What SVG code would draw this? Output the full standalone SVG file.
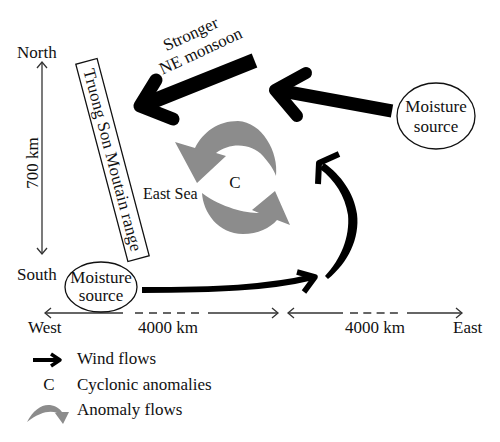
<svg xmlns="http://www.w3.org/2000/svg" width="500" height="442" viewBox="0 0 500 442">
<style>
.t{font-family:"Liberation Serif","Times New Roman",serif;font-size:17px;fill:#111}
.m{text-anchor:middle}
.w{stroke:#000;fill:none;stroke-linejoin:round}
.a{fill:#8c8c8c}
.s{stroke:#333;stroke-width:1.3;fill:none}
.node{fill:#fff;stroke:#111;stroke-width:1.3}
</style>
<rect width="500" height="442" fill="#fff"/>

<g id="scale-ns">
<line class="s" x1="42" y1="62" x2="42" y2="254"/>
<polyline class="s" points="37,68 42,62 47,68"/>
<polyline class="s" points="37,248 42,254 47,248"/>
<text class="t" x="17" y="58">North</text>
<text class="t" x="17" y="280">South</text>
<text class="t m" transform="translate(38,163) rotate(-90)">700 km</text>
</g>

<g id="scale-we">
<line class="s" x1="45" y1="313" x2="123" y2="313"/>
<line class="s" x1="135" y1="313" x2="200" y2="313" stroke-dasharray="8 6"/>
<line class="s" x1="208" y1="313" x2="278" y2="313"/>
<polyline class="s" points="51,308 45,313 51,318"/>
<polyline class="s" points="272,308 278,313 272,318"/>
<line class="s" x1="288" y1="313" x2="343" y2="313"/>
<line class="s" x1="350" y1="313" x2="398" y2="313" stroke-dasharray="8 5.3"/>
<line class="s" x1="407" y1="313" x2="462" y2="313"/>
<polyline class="s" points="294,308 288,313 294,318"/>
<polyline class="s" points="456,308 462,313 456,318"/>
<text class="t" x="28" y="333">West</text>
<text class="t" x="138" y="333">4000 km</text>
<text class="t" x="345" y="333">4000 km</text>
<text class="t" x="453" y="333">East</text>
</g>

<g id="mountain-range" transform="translate(112.5,160) rotate(75.2)">
<rect x="-102" y="-11" width="204" height="22" fill="#fff" stroke="#111" stroke-width="1.3"/>
<text class="t m" x="0" y="5.5" textLength="188">Truong Son Moutain range</text>
</g>

<g id="moisture-west">
<ellipse class="node" cx="101" cy="287" rx="36" ry="25"/>
<text class="t m" x="101" y="283">Moisture</text>
<text class="t m" x="101" y="301">source</text>
</g>

<g id="moisture-east">
<ellipse class="node" cx="436" cy="116" rx="39" ry="33"/>
<text class="t m" x="436" y="112">Moisture</text>
<text class="t m" x="436" y="132">source</text>
</g>

<g id="east-sea">
<text class="t" x="143" y="199" style="font-size:16px">East Sea</text>
</g>

<g id="cyclone">
<text class="t m" x="235" y="188">C</text>
</g>

<g id="connectors">
<!-- NE monsoon -->
<line class="w" x1="254.5" y1="60.5" x2="141" y2="106" stroke-width="15"/>
<polyline class="w" points="156,80 140,106 173,119" stroke-width="13" stroke-linecap="round"/>
<text class="t m" transform="translate(193,39) rotate(-25)">Stronger</text>
<text class="t m" transform="translate(203,56) rotate(-25)">NE monsoon</text>
<!-- east moisture wind -->
<line class="w" x1="392" y1="111" x2="277" y2="90" stroke-width="13"/>
<polyline class="w" points="306,73 275,90 297,116" stroke-width="12" stroke-linecap="round"/>
<!-- south moisture wind -->
<path class="w" d="M142,290 C215,290 268,288 313,277" stroke-width="6"/>
<polyline class="w" points="297,272 315,277 304,292" stroke-width="5.5"/>
<!-- rising curved wind -->
<path d="M328,279 C348,263 360,238 357,214 C354,193 341,175 324,163 L320,169 C335,180 345,196 348,215 C350,237 341,259 325,276 Z" fill="#000"/>
<polyline class="w" points="339,154 319,163 318,184" stroke-width="6"/>
<!-- anomaly flows -->
<path class="a" d="M276,176 C279,152 262,122 238,121 C218,121 203,132 195,148 L175,142 L197,183 L226,156 L216,153 C230,142 252,143 263,156 C270,164 274,170 276,176 Z"/>
<path class="a" d="M202,193 C203,212 218,234 243,234 C258,234 270,228 277,220 L290,225 L275,191 L252,210 L259,213 C246,213 222,208 202,193 Z"/>
</g>

<g id="legend">
<line x1="33" y1="360" x2="58" y2="360" stroke="#000" stroke-width="4"/>
<polyline class="w" points="51,354 60,360 51,366" stroke-width="3.5"/>
<text class="t" x="77" y="364">Wind flows</text>
<text class="t m" x="49" y="390">C</text>
<text class="t" x="77" y="390">Cyclonic anomalies</text>
<path class="a" d="M27,422 C33,410 42,404 50,405 C56,406 60,409 62,412 L69,412 L63,424 L55,413 L57,413 C50,410 40,412 27,422 Z"/>
<text class="t" x="77" y="415">Anomaly flows</text>
</g>
</svg>
